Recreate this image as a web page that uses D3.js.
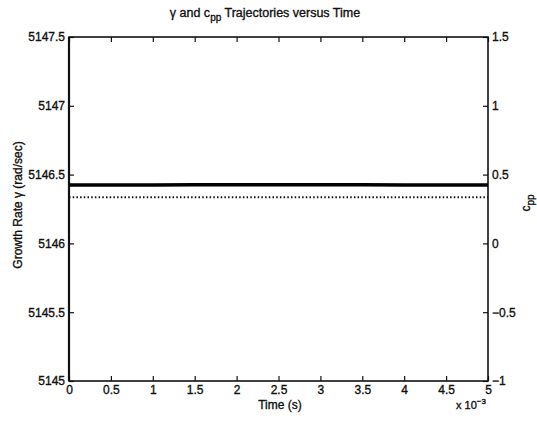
<!DOCTYPE html>
<html>
<head>
<meta charset="utf-8">
<script src="https://cdn.jsdelivr.net/npm/d3@7"></script>
<style>
  html, body { margin: 0; padding: 0; background: #fff; }
  text { font-family: "Liberation Sans", Arial, Helvetica, sans-serif; fill: #111; stroke: #111; stroke-width: 0.35px; }
</style>
</head>
<body>
<svg id="chart" width="537" height="424"></svg>
<script>
// Sample times (s) and trajectories
const timeSec = [0, 0.0005, 0.001, 0.0015, 0.002, 0.0025, 0.003, 0.0035, 0.004, 0.0045, 0.005];
const gammaRate = [5146.425, 5146.425, 5146.425, 5146.426, 5146.426, 5146.426, 5146.426, 5146.426, 5146.425, 5146.425, 5146.425];
const cppValues = [0.335, 0.335, 0.335, 0.335, 0.335, 0.335, 0.335, 0.335, 0.335, 0.335, 0.335];

const xTicks = [0, 0.0005, 0.001, 0.0015, 0.002, 0.0025, 0.003, 0.0035, 0.004, 0.0045, 0.005];
const xTickLabels = ["0", "0.5", "1", "1.5", "2", "2.5", "3", "3.5", "4", "4.5", "5"];
const leftTicks = [5145, 5145.5, 5146, 5146.5, 5147, 5147.5];
const rightTicks = [-1, -0.5, 0, 0.5, 1, 1.5];
const rightTickLabels = ["\u22121", "\u22120.5", "0", "0.5", "1", "1.5"];

const svg = d3.select("#chart");
const L = 69, R = 488, T = 37, B = 381;

const x = d3.scaleLinear().domain([0, 0.005]).range([L, R]);
const yL = d3.scaleLinear().domain([5145, 5147.5]).range([B, T]);
const yR = d3.scaleLinear().domain([-1, 1.5]).range([B, T]);

const tickLen = 5;
const fs = 12;

// Bottom axis: inward ticks and labels
const axBottom = svg.append("g").attr("transform", `translate(0,${B})`)
  .call(d3.axisBottom(x).tickValues(xTicks).tickSizeInner(-tickLen).tickSizeOuter(0)
    .tickPadding(4).tickFormat((d, i) => xTickLabels[i]));
// Top axis: mirrored ticks only
const axTop = svg.append("g").attr("transform", `translate(0,${T})`)
  .call(d3.axisTop(x).tickValues(xTicks).tickSizeInner(-tickLen).tickSizeOuter(0).tickFormat(""));
// Left axis
const axLeft = svg.append("g").attr("transform", `translate(${L},0)`)
  .call(d3.axisLeft(yL).tickValues(leftTicks).tickSizeInner(-tickLen).tickSizeOuter(0)
    .tickPadding(4).tickFormat(d3.format("")));
// Right axis
const axRight = svg.append("g").attr("transform", `translate(${R},0)`)
  .call(d3.axisRight(yR).tickValues(rightTicks).tickSizeInner(-tickLen).tickSizeOuter(0)
    .tickPadding(4).tickFormat((d, i) => rightTickLabels[i]));

[axBottom, axTop, axLeft, axRight].forEach(g => {
  g.select(".domain").remove();
  g.selectAll(".tick line").attr("stroke", "#111").attr("stroke-width", 1.2);
  g.selectAll("text").attr("font-size", fs).attr("fill", "#111")
    .attr("font-family", "'Liberation Sans', Arial, sans-serif");
});

// Plot box
svg.append("rect").attr("x", L).attr("y", T).attr("width", R - L).attr("height", B - T)
  .attr("fill", "none").attr("stroke", "#111").attr("stroke-width", 1.6);
svg.append("line").attr("x1", L).attr("x2", L).attr("y1", T).attr("y2", B)
  .attr("stroke", "#111").attr("stroke-width", 2.2);

// Growth rate trajectory (solid, left axis)
svg.append("path").datum(timeSec.map((t, i) => [t, gammaRate[i]]))
  .attr("d", d3.line().x(d => x(d[0])).y(d => yL(d[1])))
  .attr("fill", "none").attr("stroke", "#000").attr("stroke-width", 3.5);

// c_pp trajectory (dotted, right axis)
svg.append("path").datum(timeSec.map((t, i) => [t, cppValues[i]]))
  .attr("d", d3.line().x(d => x(d[0])).y(d => yR(d[1])))
  .attr("fill", "none").attr("stroke", "#111").attr("stroke-width", 2)
  .attr("stroke-dasharray", "1.5,2.2");

// Title
const title = svg.append("text").attr("x", 265).attr("y", 17).attr("text-anchor", "middle")
  .attr("font-size", 12.5);
title.append("tspan").text("\u03b3 and c");
title.append("tspan").attr("dy", 4).attr("font-size", 10).text("pp");
title.append("tspan").attr("dy", -4).text(" Trajectories versus Time");

// X label
svg.append("text").attr("x", 280).attr("y", 409).attr("text-anchor", "middle")
  .attr("font-size", fs).text("Time (s)");

// Exponent annotation
const ex = svg.append("text").attr("x", 456).attr("y", 409).attr("font-size", 11);
ex.append("tspan").text("x 10");
ex.append("tspan").attr("dy", -5).attr("font-size", 8).text("\u22123");

// Left Y label
svg.append("text").attr("transform", `translate(22,205) rotate(-90)`)
  .attr("text-anchor", "middle").attr("font-size", fs).text("Growth Rate \u03b3 (rad/sec)");

// Right Y label
const rl = svg.append("text").attr("transform", `translate(530,203) rotate(-90)`)
  .attr("text-anchor", "middle").attr("font-size", fs);
rl.append("tspan").text("c");
rl.append("tspan").attr("dy", 4).attr("font-size", 10).text("pp");
</script>
</body>
</html>
